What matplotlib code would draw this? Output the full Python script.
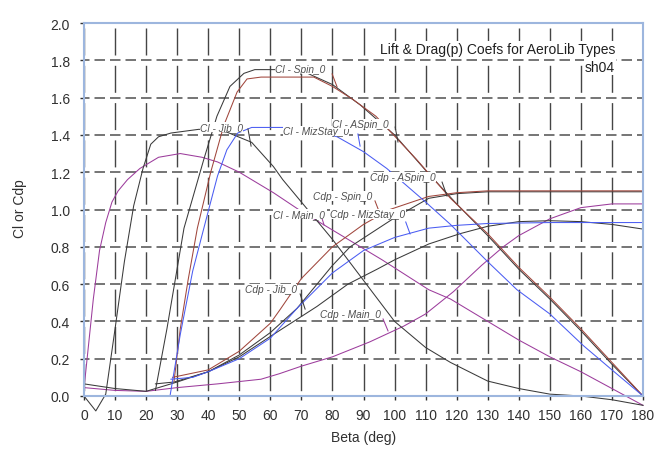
import matplotlib
matplotlib.use("Agg")
import matplotlib.pyplot as plt

plt.rcParams['font.family'] = ['Liberation Sans', 'DejaVu Sans']
plt.rcParams['lines.scale_dashes'] = False

# --- data (beta in deg, coefficient) ---
cl_main_b = [0, 1, 3, 5, 7, 9, 11, 14, 18, 24, 31, 38, 43, 50, 54, 61, 70, 80, 90, 96,
             111, 118, 130, 140, 150, 160, 170, 180]
cl_main = [0.04, 0.20, 0.52, 0.78, 0.93, 1.04, 1.10, 1.16, 1.22, 1.28, 1.30, 1.28, 1.255,
           1.20, 1.16, 1.09, 0.99, 0.89, 0.79, 0.73, 0.57, 0.52, 0.40, 0.30, 0.21, 0.13,
           0.04, -0.05]

cl_jib_b = [0, 3.8, 7, 10, 13, 16, 19, 21.5, 24, 28, 37, 46, 54, 61, 64, 70, 80, 90, 100,
            110, 118, 130, 140, 150, 160, 170, 180]
cl_jib = [0.0, -0.08, 0.01, 0.36, 0.72, 1.02, 1.22, 1.35, 1.39, 1.41, 1.43, 1.415, 1.36,
          1.23, 1.16, 1.04, 0.84, 0.62, 0.40, 0.26, 0.18, 0.08, 0.04, 0.01, 0.0, -0.02, -0.05]

cl_spin_b = [29, 31, 33.5, 36.5, 40.8, 45, 49.3, 52.5, 57, 65, 74, 80, 86.6, 94, 107, 118,
             130, 140, 150, 160, 170, 180]
cl_spin = [0.08, 0.36, 0.62, 0.90, 1.20, 1.45, 1.63, 1.70, 1.71, 1.71, 1.71, 1.66, 1.59,
           1.50, 1.27, 1.06, 0.87, 0.69, 0.53, 0.36, 0.18, 0.0]

cl_aspin_b = [23, 26.7, 32.2, 38.6, 42.8, 47, 51.5, 55, 65, 72, 80, 89, 100, 110, 120, 130,
              140, 150, 160, 170, 180]
cl_aspin = [0.03, 0.36, 0.90, 1.27, 1.50, 1.66, 1.73, 1.75, 1.75, 1.73, 1.67, 1.56, 1.40,
            1.21, 1.03, 0.86, 0.68, 0.52, 0.35, 0.17, 0.0]

cl_miz_b = [27.7, 31, 35, 40, 43, 46, 49.5, 54, 64, 72, 81.5, 90, 97.5, 110, 118, 130,
            139.4, 150, 160.8, 170, 180]
cl_miz = [0.0, 0.33, 0.67, 0.99, 1.18, 1.32, 1.41, 1.44, 1.44, 1.43, 1.39, 1.31, 1.22, 1.04,
          0.92, 0.72, 0.57, 0.44, 0.27, 0.14, 0.0]

cdp_spin_b = [28.5, 40, 50, 60, 63, 70, 80, 90, 98.5, 111, 120, 130, 150, 180]
cdp_spin = [0.10, 0.14, 0.24, 0.39, 0.46, 0.63, 0.80, 0.92, 1.00, 1.07, 1.09, 1.10, 1.10, 1.10]

cdp_aspin_b = [23, 29, 40, 50, 60, 68.6, 80, 85.7, 99.5, 111, 120, 130, 150, 180]
cdp_aspin = [0.065, 0.075, 0.13, 0.22, 0.34, 0.47, 0.70, 0.80, 0.95, 1.06, 1.085, 1.095,
             1.095, 1.095]

cdp_miz_b = [28, 35, 40, 50, 60, 68.6, 80, 90, 100, 111, 120, 130, 150, 180]
cdp_miz = [0.09, 0.10, 0.13, 0.20, 0.31, 0.47, 0.66, 0.78, 0.85, 0.90, 0.915, 0.925, 0.93, 0.93]

cdp_jib_b = [0, 10, 20, 30, 40, 50, 61, 75, 85, 94.4, 100, 111, 121, 130, 140, 150, 160,
             170, 180]
cdp_jib = [0.065, 0.04, 0.025, 0.075, 0.13, 0.21, 0.33, 0.48, 0.60, 0.68, 0.73, 0.815, 0.87,
           0.91, 0.935, 0.94, 0.935, 0.92, 0.895]

cdp_main_b = [0, 10, 20, 30, 43, 57, 63, 70, 80, 92, 103, 110, 119, 128, 135, 140, 150, 160,
              170, 180]
cdp_main = [0.045, 0.03, 0.025, 0.045, 0.065, 0.09, 0.12, 0.16, 0.21, 0.29, 0.375, 0.44,
            0.56, 0.70, 0.80, 0.86, 0.95, 1.01, 1.03, 1.03]

x_ticks = list(range(0, 181, 10))
y_ticks = [0.0, 0.2, 0.4, 0.6, 0.8, 1.0, 1.2, 1.4, 1.6, 1.8, 2.0]

BLACK = "#3a3a3a"
BROWN = "#a0463c"
PURPLE = "#9c3c9c"
BLUE = "#4a5cf2"

fig = plt.figure(figsize=(6.56, 4.52), dpi=100)
ax = fig.add_axes([84/656, 1 - 397/452, (643 - 84)/656, (397 - 24)/452])
ax.set_xlim(0, 180)
ax.set_ylim(0, 2.0)

# grid: px -> pt is *0.72
ax.yaxis.grid(True, color="#6a6a6a", lw=1.3, linestyle=(5*0.72, (10.5*0.72, 5.0*0.72)), zorder=0)
ax.xaxis.grid(True, color="#454545", lw=1.0, linestyle=(32*0.72, (27*0.72, 10.3*0.72)), zorder=0)
ax.set_axisbelow(True)

for s in ax.spines.values():
    s.set_color("#9db6de")
    s.set_linewidth(1.5)

ax.set_xticks(x_ticks)
ax.set_yticks(y_ticks)
ax.set_yticklabels([f"{v:.1f}" for v in y_ticks])
ax.tick_params(axis="both", labelsize=10, colors="#303030", length=3, width=1)
ax.tick_params(axis="x", pad=6)
ax.tick_params(axis="y", pad=7)

curves = [
    (cl_main_b, cl_main, PURPLE),
    (cdp_main_b, cdp_main, PURPLE),
    (cl_jib_b, cl_jib, BLACK),
    (cdp_jib_b, cdp_jib, BLACK),
    (cl_aspin_b, cl_aspin, BLACK),
    (cdp_aspin_b, cdp_aspin, BLACK),
    (cl_spin_b, cl_spin, BROWN),
    (cdp_spin_b, cdp_spin, BROWN),
    (cl_miz_b, cl_miz, BLUE),
    (cdp_miz_b, cdp_miz, BLUE),
]
for b, v, c in curves:
    ax.plot(b, v, color=c, lw=0.75, clip_on=False, zorder=2)

# curve labels with short leader lines
labels = [
    ("Cl - Jib_0", (37.4, 1.442), (52.8, 1.432), (53.8, 1.34), BLACK),
    ("Cl - MizStay_0", (64.1, 1.421), (88.2, 1.405), (88.9, 1.34), BLUE),
    ("Cl - ASpin_0", (79.9, 1.458), (100.2, 1.442), (101.1, 1.362), BLACK),
    ("Cl - Spin_0", (61.5, 1.753), (79.9, 1.727), (81.5, 1.657), BROWN),
    ("Cdp - ASpin_0", (92.1, 1.174), (115.3, 1.147), (116.9, 1.072), BLACK),
    ("Cdp - Spin_0", (73.8, 1.072), (93.7, 1.046), (94.7, 1.003), BROWN),
    ("Cdp - MizStay_0", (79.3, 0.976), (103.6, 0.933), (105.0, 0.869), BLUE),
    ("Cl - Main_0", (61.0, 0.976), (76.7, 0.949), (77.3, 0.917), PURPLE),
    ("Cdp - Jib_0", (51.9, 0.574), (69.6, 0.547), (71.2, 0.466), BLACK),
    ("Cdp - Main_0", (76.0, 0.44), (96.3, 0.413), (97.9, 0.349), PURPLE),
]
for txt, pos, l0, l1, c in labels:
    ax.plot([l0[0], l1[0]], [l0[1], l1[1]], color=c, lw=0.75, zorder=2)
    ax.text(pos[0], pos[1], txt, fontsize=7.3, style="italic", color="#505050",
            ha="left", va="center", zorder=3,
            bbox=dict(facecolor="white", edgecolor="none", pad=0.2))

ax.text(615/656, 1 - 50/452, "Lift & Drag(p) Coefs for AeroLib Types", transform=fig.transFigure,
        ha="right", va="center", fontsize=10, color="#202020", zorder=4,
        bbox=dict(facecolor="white", edgecolor="none", pad=0.5))
ax.text(615/656, 1 - 68/452, "sh04", transform=fig.transFigure,
        ha="right", va="center", fontsize=10, color="#202020", zorder=4,
        bbox=dict(facecolor="white", edgecolor="none", pad=0.5))

fig.text(363.5/656, 1 - 438/452, "Beta (deg)", ha="center", va="center", fontsize=10, color="#303030")
fig.text(20/656, 1 - 209/452, "Cl or Cdp", ha="center", va="center", rotation=90, fontsize=10,
         color="#303030")

fig.savefig("out.png", dpi=100, facecolor="white")
